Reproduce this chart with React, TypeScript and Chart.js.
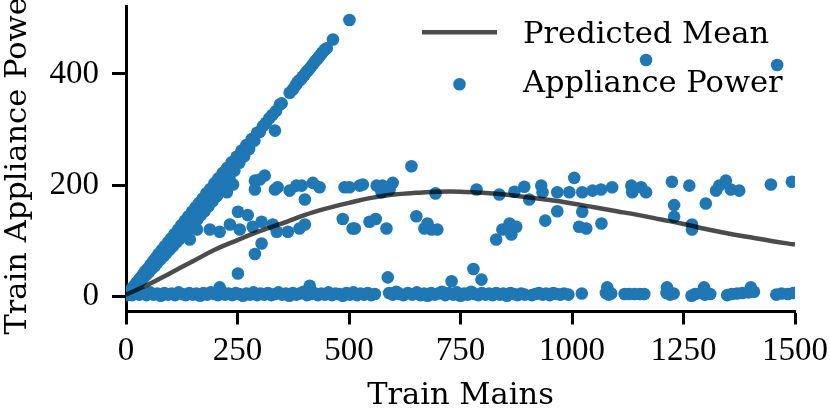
import React, { useEffect, useRef } from "react";
import { Chart, registerables } from "chart.js";

Chart.register(...registerables);

// Predicted mean curve
const meanX = [0, 50, 100, 150, 200, 250, 300, 350, 400, 450, 500, 550, 600, 650, 700, 750, 800, 850, 900, 950, 1000, 1050, 1100, 1150, 1200, 1250, 1300, 1350, 1400, 1450, 1500];
const meanY = [3, 21, 42, 63, 84, 101, 117, 131, 146, 158, 168, 177, 183, 186, 188, 188, 186, 183, 178, 173, 167, 160, 153, 146, 138, 130, 121, 113, 106, 99, 93];

// Appliance power: diagonal branch (appliance == mains)
const diagX = [2, 4, 6, 8, 10, 12, 14, 16, 18, 20, 23, 25, 28, 30, 33, 35, 38, 40, 43, 46, 49, 52, 55, 58, 60, 61, 64, 67, 70, 73, 77, 80, 84, 87, 91, 94, 98, 101, 105, 109, 110, 113, 117, 120, 124, 128, 132, 136, 140, 144, 148, 150, 152, 156, 160, 164, 168, 172, 176, 180, 185, 189, 190, 194, 198, 203, 207, 212, 217, 222, 227, 230, 232, 237, 243, 248, 254, 259, 265, 270, 276, 282, 288, 294, 300, 307, 314, 321, 328, 336, 345, 349, 367, 374, 380, 384, 388, 392, 396, 400, 404, 408, 412, 416, 420, 424, 428, 432, 436, 440, 445, 450, 464, 501];
const diagY = [2, 3, 6, 7, 10, 10, 15, 14, 18, 17, 24, 21, 29, 26, 34, 30, 39, 34, 45, 39, 50, 44, 57, 50, 57, 63, 54, 69, 60, 76, 66, 83, 72, 90, 78, 97, 84, 104, 90, 112, 104, 97, 120, 103, 128, 110, 136, 117, 144, 124, 152, 142, 131, 160, 138, 168, 146, 176, 153, 185, 162, 193, 180, 171, 203, 180, 212, 190, 222, 200, 231, 220, 212, 241, 226, 251, 240, 262, 252, 272, 265, 283, 280, 294, 296, 306, 312, 320, 326, 333, 345, 347, 366, 372, 379, 384, 388, 390, 395, 398, 403, 406, 410, 414, 418, 423, 426, 430, 434, 438, 443, 446, 462, 497];

// Appliance power: near-zero branch
const flatX = [5, 14, 22, 30, 38, 46, 54, 62, 70, 78, 86, 94, 102, 110, 118, 126, 134, 142, 150, 158, 166, 174, 182, 190, 198, 206, 210, 214, 222, 230, 238, 246, 254, 262, 270, 278, 286, 294, 302, 310, 318, 326, 334, 342, 350, 358, 366, 374, 382, 390, 398, 406, 412, 414, 422, 430, 438, 446, 454, 462, 470, 478, 486, 494, 502, 510, 518, 526, 534, 542, 550, 558, 590, 598, 606, 614, 622, 632, 642, 652, 660, 668, 676, 684, 692, 700, 708, 716, 724, 730, 734, 742, 750, 758, 766, 774, 782, 790, 798, 806, 814, 822, 830, 838, 846, 854, 862, 870, 878, 886, 894, 910, 918, 926, 934, 942, 950, 958, 966, 974, 982, 992, 1022, 1076, 1079, 1082, 1088, 1118, 1128, 1140, 1152, 1162, 1212, 1213, 1220, 1228, 1268, 1276, 1290, 1296, 1298, 1310, 1348, 1358, 1370, 1382, 1396, 1401, 1408, 1458, 1470, 1484, 1496];
const flatY = [4, 2, 6, 3, 5, 2, 7, 3, 5, 1, 6, 3, 5, 2, 7, 4, 2, 6, 3, 5, 1, 6, 3, 7, 4, 2, 16, 8, 3, 5, 2, 6, 4, 1, 5, 3, 7, 2, 5, 3, 6, 2, 4, 7, 3, 5, 1, 6, 3, 5, 8, 2, 19, 4, 6, 2, 5, 3, 7, 2, 5, 4, 1, 6, 3, 7, 2, 5, 3, 6, 2, 4, 6, 3, 8, 4, 2, 6, 3, 7, 2, 5, 1, 6, 3, 5, 8, 2, 6, 27, 3, 7, 1, 5, 3, 8, 4, 2, 6, 3, 5, 2, 6, 3, 5, 1, 6, 4, 2, 5, 3, 2, 4, 6, 3, 5, 2, 6, 4, 3, 5, 3, 5, 6, 16, 3, 5, 4, 4, 4, 4, 4, 6, 16, 3, 5, 1, 4, 6, 16, 3, 4, 2, 4, 5, 6, 7, 16, 8, 3, 5, 4, 6];

// Appliance power: intermediate branch (~100-230 W)
const midX = [143, 159, 188, 210, 226, 233, 240, 204, 233, 255, 251, 273, 251, 289, 304, 284, 304, 329, 338, 363, 389, 401, 289, 300, 289, 311, 334, 340, 367, 382, 394, 401, 419, 434, 490, 486, 508, 501, 524, 531, 562, 575, 598, 591, 573, 546, 560, 513, 584, 587, 640, 651, 669, 685, 698, 676, 694, 786, 837, 871, 893, 904, 931, 934, 967, 994, 1005, 1023, 1023, 967, 940, 1016, 830, 844, 860, 875, 864, 1032, 1066, 1046, 1065, 1090, 1133, 1135, 1155, 1166, 1224, 1229, 1229, 1263, 1269, 1269, 1300, 1323, 1330, 1345, 1356, 1375, 1446, 1493, 1166, 1460, 334, 779, 797];
const midY = [102, 120, 120, 116, 187, 204, 201, 181, 129, 120, 152, 146, 41, 76, 95, 125, 134, 129, 116, 116, 122, 129, 208, 210, 192, 217, 192, 196, 190, 199, 199, 174, 204, 196, 196, 139, 122, 196, 199, 201, 199, 199, 204, 192, 187, 134, 139, 122, 122, 34, 234, 144, 122, 120, 120, 131, 185, 192, 183, 188, 197, 174, 199, 187, 187, 187, 213, 187, 152, 153, 136, 125, 102, 120, 131, 125, 111, 122, 131, 190, 192, 196, 199, 187, 196, 187, 206, 164, 143, 199, 129, 120, 167, 190, 199, 208, 192, 190, 201, 206, 425, 416, 298, 49, 30];

const xTickValues = [0, 250, 500, 750, 1000, 1250, 1500];
const yTickValues = [0, 200, 400];

const meanLabel = "Predicted Mean";
const pointsLabel = "Appliance Power";
const xTitle = "Train Mains";
const yTitle = "Train Appliance Power";

const pointColor = "#1f77b4";
const lineColor = "rgba(0,0,0,0.7)";
const textFont = "'DejaVu Serif', serif";
const tickFont = "'Liberation Serif', serif";
const textSize = 30.5;
const tickSize = 33;

function zip(xs: number[], ys: number[]) {
  return xs.map((x, i) => ({ x, y: ys[i] }));
}

const legendPlugin = {
  id: "insideLegend",
  afterDraw(chart: any) {
    const ctx = chart.ctx as CanvasRenderingContext2D;
    const area = chart.chartArea;
    const lx0 = area.right - 373;
    const lx1 = area.right - 298;
    const tx = area.right - 272;
    ctx.save();
    ctx.strokeStyle = lineColor;
    ctx.lineWidth = 4.5;
    ctx.beginPath();
    ctx.moveTo(lx0, area.top + 26);
    ctx.lineTo(lx1, area.top + 26);
    ctx.stroke();
    ctx.fillStyle = pointColor;
    ctx.beginPath();
    ctx.arc((lx0 + lx1) / 2, area.top + 78, 6.3, 0, Math.PI * 2);
    ctx.fill();
    ctx.fillStyle = "#000";
    ctx.font = textSize + "px " + textFont;
    ctx.textAlign = "left";
    ctx.textBaseline = "alphabetic";
    ctx.fillText(meanLabel, tx, area.top + 37);
    ctx.fillText(pointsLabel, tx, area.top + 86);
    ctx.restore();
  },
};

export default function App() {
  const ref = useRef<HTMLCanvasElement | null>(null);
  useEffect(() => {
    document.body.style.margin = "0";
    if (!ref.current) return;
    const chart = new Chart(ref.current, {
      type: "scatter",
      data: {
        datasets: [
          {
            type: "line",
            label: meanLabel,
            data: zip(meanX, meanY),
            borderColor: lineColor,
            borderWidth: 4.5,
            pointRadius: 0,
            tension: 0.4,
            fill: false,
            clip: 0,
          } as any,
          {
            type: "scatter",
            label: pointsLabel,
            data: [...zip(diagX, diagY), ...zip(flatX, flatY), ...zip(midX, midY)],
            backgroundColor: pointColor,
            borderWidth: 0,
            pointRadius: 6.3,
            pointHoverRadius: 6.3,
            clip: 0,
          } as any,
        ],
      },
      options: {
        animation: false,
        responsive: false,
        events: [],
        layout: { padding: 0 },
        plugins: {
          legend: { display: false },
          tooltip: { enabled: false },
        },
        scales: {
          x: {
            type: "linear",
            min: 0,
            max: 1500,
            afterBuildTicks: (scale: any) => {
              scale.ticks = xTickValues.map((v) => ({ value: v }));
            },
            afterFit: (scale: any) => {
              scale.height = 104;
              scale.paddingLeft = 0;
              scale.paddingRight = 35;
            },
            ticks: {
              font: { family: tickFont, size: tickSize },
              color: "#000",
              padding: 7,
              maxRotation: 0,
              callback: (v: any) => String(v),
            },
            grid: {
              drawOnChartArea: false,
              drawTicks: true,
              tickLength: 13.5,
              tickWidth: 3,
              tickColor: "#000",
            },
            border: { display: true, color: "#000", width: 3 },
            title: {
              display: true,
              text: xTitle,
              font: { family: textFont, size: textSize },
              color: "#000",
              padding: { top: 0, bottom: 1 },
            },
          },
          y: {
            type: "linear",
            min: -26.5,
            max: 521.6,
            afterBuildTicks: (scale: any) => {
              scale.ticks = yTickValues.map((v) => ({ value: v }));
            },
            afterFit: (scale: any) => {
              scale.width = 126;
              scale.paddingTop = 0;
              scale.paddingBottom = 0;
            },
            ticks: {
              font: { family: tickFont, size: tickSize },
              color: "#000",
              padding: 13,
              callback: (v: any) => String(v),
            },
            grid: {
              drawOnChartArea: false,
              drawTicks: true,
              tickLength: 14,
              tickWidth: 3,
              tickColor: "#000",
            },
            border: { display: true, color: "#000", width: 3 },
            title: {
              display: true,
              text: yTitle,
              font: { family: textFont, size: textSize },
              color: "#000",
              padding: { top: 0, bottom: 0 },
            },
          },
        },
      },
      plugins: [legendPlugin],
    });
    return () => chart.destroy();
  }, []);
  return (
    <div style={{ width: 830, height: 415 }}>
      <canvas ref={ref} width={830} height={415} style={{ display: "block" }} />
    </div>
  );
}
